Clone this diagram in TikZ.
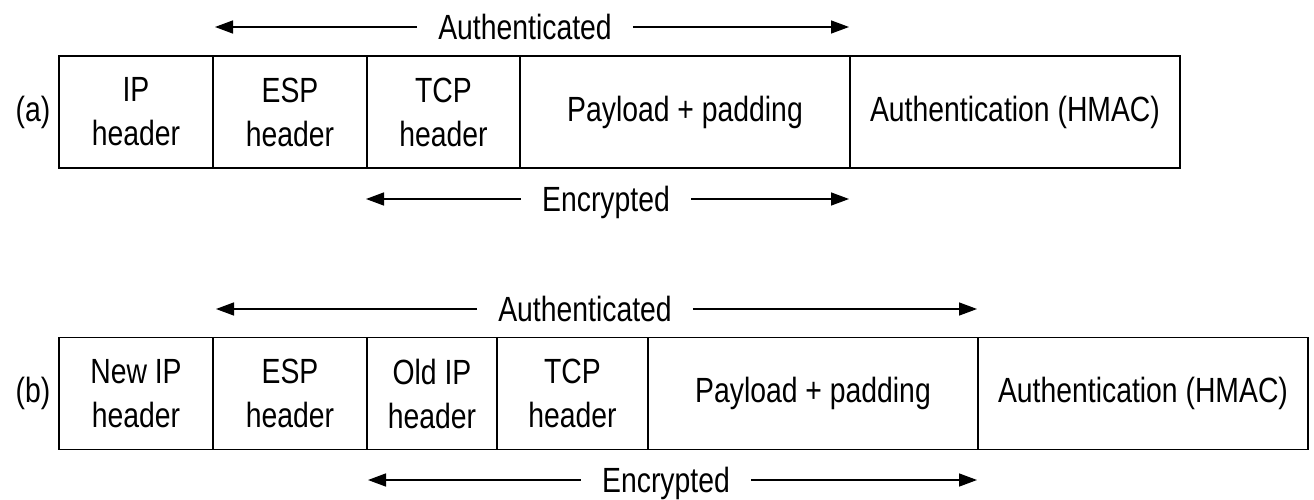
\documentclass[tikz,border=0pt]{standalone}
\usepackage{fontspec}
\setmainfont{Liberation Sans}[FakeStretch=0.81]
\usetikzlibrary{arrows.meta}
\tikzset{
  txt/.style={font=\fontsize{35pt}{44pt}\selectfont},
  cell/.style={txt, draw, line width=1.3pt, minimum height=112pt, inner sep=0pt,
    outer sep=0pt, align=center, anchor=west},
  frame/.style={draw, line width=1.8pt},
  rowlabel/.style={txt, inner sep=0pt},
  spanlabel/.style={txt, inner xsep=21pt, inner ysep=0pt, text height=25pt, text depth=0pt},
  span/.style={line width=1.5pt, -{Triangle[length=18pt,width=13pt]}}
}
\begin{document}
\begin{tikzpicture}[x=1pt,y=-1pt]
\useasboundingbox (0,0) rectangle (1314,500);

% ---- (a) transport mode ----
\node[rowlabel] (la) at (33,112) {(a)};
\node[cell, minimum width=154pt] (a1) at (59,112) {IP\\header};
\node[cell, minimum width=154pt] (a2) at (a1.east) {ESP\\header};
\node[cell, minimum width=153pt] (a3) at (a2.east) {TCP\\header};
\node[cell, minimum width=330pt] (a4) at (a3.east) {Payload + padding};
\node[cell, minimum width=330pt] (a5) at (a4.east) {Authentication (HMAC)};
\draw[frame] (a1.north west) rectangle (a5.south east);

\node[spanlabel] (authA) at (525,27) {Authenticated};
\coordinate (authA-l) at (215,27);
\coordinate (authA-r) at (849,27);
\draw[span] (authA.west) -- (authA-l);
\draw[span] (authA.east) -- (authA-r);

\node[spanlabel] (encA) at (606,199) {Encrypted};
\coordinate (encA-l) at (366,199);
\coordinate (encA-r) at (849,199);
\draw[span] (encA.west) -- (encA-l);
\draw[span] (encA.east) -- (encA-r);

% ---- (b) tunnel mode ----
\node[rowlabel] (lb) at (33,393.5) {(b)};
\node[cell, minimum width=154pt] (b1) at (59,393.5) {New IP\\header};
\node[cell, minimum width=154pt] (b2) at (b1.east) {ESP\\header};
\node[cell, minimum width=130pt] (b3) at (b2.east) {Old IP\\header};
\node[cell, minimum width=151pt] (b4) at (b3.east) {TCP\\header};
\node[cell, minimum width=330pt] (b5) at (b4.east) {Payload + padding};
\node[cell, minimum width=330pt] (b6) at (b5.east) {Authentication (HMAC)};
\draw[frame] (b1.north west) rectangle (b6.south east);

\node[spanlabel] (authB) at (585,309) {Authenticated};
\coordinate (authB-l) at (216,309);
\coordinate (authB-r) at (977,309);
\draw[span] (authB.west) -- (authB-l);
\draw[span] (authB.east) -- (authB-r);

\node[spanlabel] (encB) at (666,480) {Encrypted};
\coordinate (encB-l) at (368,480);
\coordinate (encB-r) at (977,480);
\draw[span] (encB.west) -- (encB-l);
\draw[span] (encB.east) -- (encB-r);
\end{tikzpicture}
\end{document}
